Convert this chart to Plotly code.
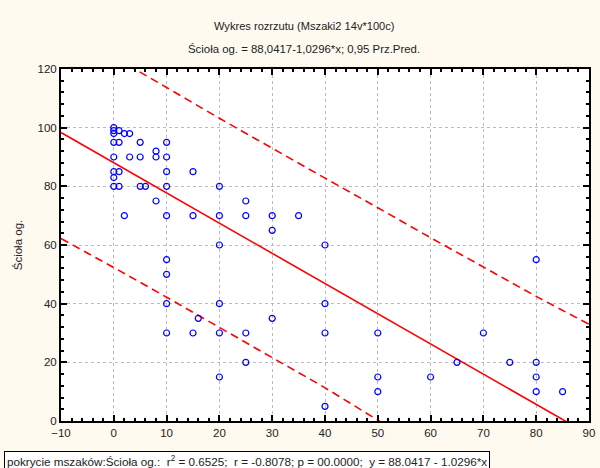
import plotly.graph_objects as go

# Data points (pokrycie mszaków vs Ścioła og.)
moss_cover = [0, 0, 0, 0, 0, 0, 0, 0,
              1, 1, 1, 1,
              2, 2,
              3, 3,
              5, 5, 5,
              6,
              8, 8, 8,
              10, 10, 10, 10, 10, 10, 10, 10, 10,
              15, 15, 15,
              16,
              20, 20, 20, 20, 20, 20,
              25, 25, 25, 25,
              30, 30, 30,
              35,
              40, 40, 40, 40,
              50, 50, 50,
              60, 65, 70, 75,
              80, 80, 80, 80,
              85]
litter = [100, 99, 98, 95, 90, 85, 83, 80,
          99, 95, 85, 80,
          98, 70,
          98, 90,
          95, 90, 80,
          80,
          92, 90, 75,
          95, 90, 85, 80, 70, 55, 50, 40, 30,
          85, 70, 30,
          35,
          80, 70, 60, 40, 30, 15,
          75, 70, 30, 20,
          70, 65, 35,
          70,
          60, 40, 30, 5,
          30, 15, 10,
          15, 20, 30, 20,
          55, 20, 15, 10,
          10]

# Regression line (from the chart's equation)
INTERCEPT = 88.0417
SLOPE = -1.0296

# 0.95 prediction band at the x ticks
band_x = [-10, 0, 10, 20, 30, 40, 50, 60, 70, 80, 90]
band_upper = [134.6, 124.1, 113.7, 103.2, 93.0, 82.8, 72.7, 62.5, 52.5, 42.5, 33.0]
band_lower = [62.2, 52.3, 42.2, 31.9, 21.6, 11.3, 0.3, -10.2, -20.7, -31.4, -42.1]

x_ticks = [-10, 0, 10, 20, 30, 40, 50, 60, 70, 80, 90]
y_ticks = [0, 20, 40, 60, 80, 100, 120]

fit_x = [x_ticks[0], x_ticks[-1]]
fit_y = [INTERCEPT + SLOPE * v for v in fit_x]

RED = "#FF0000"
fig = go.Figure()
fig.add_trace(go.Scatter(x=fit_x, y=fit_y, mode="lines", line=dict(color=RED, width=1.6), hoverinfo="skip"))
fig.add_trace(go.Scatter(x=band_x, y=band_upper, mode="lines",
                         line=dict(color=RED, width=1.6, dash="8px,5px", shape="spline"), hoverinfo="skip"))
fig.add_trace(go.Scatter(x=band_x, y=band_lower, mode="lines",
                         line=dict(color=RED, width=1.6, dash="8px,5px", shape="spline"), hoverinfo="skip"))
fig.add_trace(go.Scatter(x=moss_cover, y=litter, mode="markers",
                         marker=dict(symbol="circle-open", size=6, color="#0000FF",
                                     line=dict(width=1.2, color="#0000FF"))))

W, H = 600, 468
L, R, T, B = 61, 5, 69, 47
pw = W - L - R
ph = H - T - B

axis_common = dict(showline=True, linecolor="black", linewidth=2, mirror="ticks",
                   ticks="inside", ticklen=6, tickcolor="black", tickwidth=1.5,
                   showgrid=True, gridcolor="#BBBBBB", griddash="dot", gridwidth=1,
                   zeroline=False, tickfont=dict(family="Liberation Sans, Arial", size=11.5, color="#222"))

fig.update_layout(
    width=W, height=H,
    margin=dict(l=L, r=R, t=T, b=B),
    paper_bgcolor="#FEFAF0",
    plot_bgcolor="white",
    showlegend=False,
    font=dict(family="Liberation Sans, Arial", size=11, color="#222"),
    xaxis=dict(range=[x_ticks[0], x_ticks[-1]], tickvals=x_ticks,
               minor=dict(ticks="inside", ticklen=3, dtick=2, tickcolor="black", showgrid=False),
               **axis_common),
    yaxis=dict(range=[y_ticks[0], y_ticks[-1]], tickvals=y_ticks,
               minor=dict(ticks="inside", ticklen=3, dtick=4, tickcolor="black", showgrid=False),
               title=dict(text="Ścioła og.", font=dict(size=11.5), standoff=12),
               **axis_common),
)


def px_x(p):
    return (p - L) / pw


def px_y(p):
    return (H - B - p) / ph


fig.add_annotation(text="Wykres rozrzutu (Mszaki2 14v*100c)", x=px_x(307), y=px_y(26),
                   xref="paper", yref="paper", showarrow=False, xanchor="center", yanchor="middle",
                   font=dict(size=11.1, color="#222"))
fig.add_annotation(text="Ścioła og. = 88,0417-1,0296*x; 0,95 Prz.Pred.", x=px_x(307), y=px_y(49),
                   xref="paper", yref="paper", showarrow=False, xanchor="center", yanchor="middle",
                   font=dict(size=11.4, color="#222"))
fig.add_annotation(text="pokrycie mszaków:Ścioła og.:  r<sup>2</sup> = 0.6525;  r = -0.8078; p = 00.0000;  y = 88.0417 - 1.0296*x",
                   x=px_x(3), y=px_y(451), xref="paper", yref="paper", showarrow=False,
                   xanchor="left", yanchor="top", align="left",
                   bordercolor="black", borderwidth=1, borderpad=2, bgcolor="white",
                   font=dict(size=11.7, color="#222"))

fig.write_html("out.html")
